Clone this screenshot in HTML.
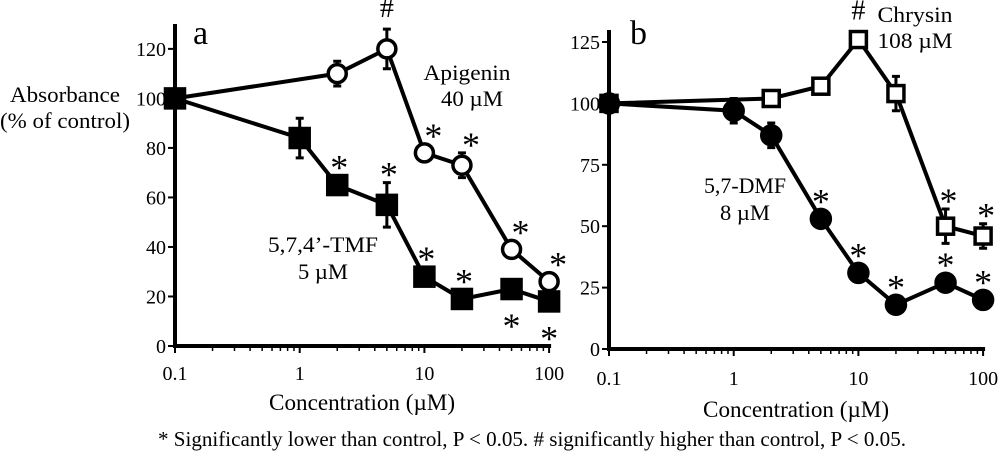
<!DOCTYPE html>
<html><head><meta charset="utf-8"><style>
html,body{margin:0;padding:0;background:#fff;}
svg{display:block;}
svg text{font-family:"Liberation Serif","Times New Roman",serif;}
</style></head><body>
<svg id="chart" width="1000" height="460" viewBox="0 0 1000 460" xmlns="http://www.w3.org/2000/svg" font-family="Liberation Serif, serif">
<text x="65" y="102" font-size="22" text-anchor="middle" textLength="110" lengthAdjust="spacingAndGlyphs">Absorbance</text>
<text x="65" y="128" font-size="22" text-anchor="middle" textLength="130" lengthAdjust="spacingAndGlyphs">(% of control)</text>
<text x="158" y="446" font-size="21" textLength="748" lengthAdjust="spacingAndGlyphs">* Significantly lower than control, P &lt; 0.05. # significantly higher than control, P &lt; 0.05.</text>
<g id="pa"></g>
<g id="pb"></g>
</svg>
<script>
// Panel a data
const aConc = [0.1, 2, 5, 10, 20, 50, 100];
const aApigenin = [100, 110, 120, 78, 73, 39, 26];
const aApigeninErr = [0, 5, 8, 2, 5, 3, 2];
const aApigeninMark = ["", "", "#", "*", "*", "*", "*"];
const aTmfConc = [0.1, 1, 2, 5, 10, 20, 50, 100];
const aTmf = [100, 84, 65, 57, 28, 19, 23, 18];
const aTmfErr = [0, 8, 2, 9, 2, 2, 2, 2];
const aTmfMark = ["", "", "*", "*", "*", "*", "*b", "*b"];
const aYTicks = [0, 20, 40, 60, 80, 100, 120];
// Panel b data
const bChrysinConc = [0.1, 2, 5, 10, 20, 50, 100];
const bChrysin = [100, 102, 107, 126, 104, 50, 46];
const bChrysinErr = [0, 2, 2, 2, 7, 7, 5];
const bChrysinMark = ["", "", "", "#", "", "*", "*"];
const bDmfConc = [0.1, 1, 2, 5, 10, 20, 50, 100];
const bDmf = [100, 97, 87, 53, 31, 18, 27, 20];
const bDmfErr = [0, 5, 5, 2, 2, 2, 2, 2];
const bDmfMark = ["", "", "", "*", "*", "*", "*", "*"];
const bYTicks = [0, 25, 50, 75, 100, 125];
const xTickLabels = ["0.1", "1", "10", "100"];
const xTickVals = [0.1, 1, 10, 100];

const NS = "http://www.w3.org/2000/svg";
function mk(parent, tag, attrs, text) {
  const e = document.createElementNS(NS, tag);
  for (const k in attrs) e.setAttribute(k, attrs[k]);
  if (text !== undefined) e.textContent = text;
  parent.appendChild(e);
  return e;
}

function panel(g, cfg) {
  const x = v => cfg.x0 + (Math.log10(v) + 1) * cfg.dec;
  const y = v => cfg.y0 - v * cfg.ppu;
  const xEnd = x(100);
  let e = mk(g, "line", {x1: cfg.x0, y1: cfg.y0, x2: xEnd + 2, y2: cfg.y0, stroke: "#000", "stroke-width": 4});
  
  
  e = mk(g, "line", {x1: cfg.x0, y1: cfg.y0 + 2, x2: cfg.x0, y2: cfg.yTop, stroke: "#000", "stroke-width": 4});
  
  
  cfg.yTicks.forEach(t => {
    let l = mk(g, "line", {x1: cfg.x0 - 7, y1: y(t), x2: cfg.x0, y2: y(t), stroke: "#000", "stroke-width": 2});
    
    
    let tx = mk(g, "text", {x: cfg.x0 - 9, y: y(t) + 7, "font-size": 20, "text-anchor": "end"}, String(t));
    
    
  });
  xTickVals.forEach((v, i) => {
    let l = mk(g, "line", {x1: x(v), y1: cfg.y0, x2: x(v), y2: cfg.y0 + 7, stroke: "#000", "stroke-width": 2});
    
    
    let tx = mk(g, "text", {x: x(v), y: cfg.y0 + cfg.tickDy, "font-size": 20, "text-anchor": "middle"}, xTickLabels[i]);
    
    
    if (i < 3) for (let m = 2; m <= 9; m++) {
      let ml = mk(g, "line", {x1: x(v * m), y1: cfg.y0 + 1, x2: x(v * m), y2: cfg.y0 + 5, stroke: "#000", "stroke-width": 1.5});
      
      
    }
  });
  let xt = mk(g, "text", {x: (cfg.x0 + xEnd) / 2, y: cfg.y0 + cfg.titleDy, "font-size": 23, "text-anchor": "middle", textLength: 186, lengthAdjust: "spacingAndGlyphs"}, "Concentration (\u00b5M)");
  
  
  let pl = mk(g, "text", {x: cfg.labelX, y: cfg.labelY, "font-size": 34}, cfg.label);
  
  

  cfg.series.forEach(s => {
    const sg = mk(g, "g", {});
    
    
    const pts = s.xs.map((v, i) => x(v) + "," + y(s.ys[i])).join(" ");
    let pln = mk(sg, "polyline", {points: pts, fill: "none", stroke: "#000", "stroke-width": 4});
    
    
    s.xs.forEach((v, i) => {
      const px = x(v), py = y(s.ys[i]), er = s.err[i];
      if (er > 0) {
        let eb = mk(sg, "path", {d: `M${px},${y(s.ys[i] + er)}V${y(s.ys[i] - er)}M${px - 4},${y(s.ys[i] + er)}H${px + 4}M${px - 4},${y(s.ys[i] - er)}H${px + 4}`, stroke: "#000", "stroke-width": 3, fill: "none"});
        
        
      }
      let mkEl;
      if (s.shape === "circle") mkEl = mk(sg, "circle", {cx: px, cy: py, r: s.size, fill: s.fill, stroke: "#000", "stroke-width": 3.5});
      else mkEl = mk(sg, "rect", {x: px - s.size, y: py - s.size, width: 2 * s.size, height: 2 * s.size, fill: s.fill, stroke: "#000", "stroke-width": 3.5});
      
      
      const m = s.marks[i];
      if (m) {
        const below = m.endsWith("b");
        const ch = m[0];
        const top = Math.min(py - s.size, y(s.ys[i] + er));
        let st;
        if (ch === "#") {
          st = mk(sg, "text", {x: px, y: top - 12, "font-size": 28, "text-anchor": "middle"}, "#");
          
        } else {
          const cy = below ? py + 29 : top - 16;
          st = mk(sg, "text", {x: px + (below ? 0 : (s.markDx || 0)), y: cy + 20, "font-size": 36, "text-anchor": "middle"}, "*");
          
        }
        
      }
    });
  });
  cfg.annotations.forEach(a => {
    let t = mk(g, "text", {x: a.x, y: a.y, "font-size": 22, "text-anchor": "middle", textLength: a.w, lengthAdjust: "spacingAndGlyphs"}, a.t);
    
    
  });
}

panel(document.getElementById("pa"), {
  x0: 175, y0: 346, dec: 124.7, ppu: 2.476, yTop: 24, yTicks: aYTicks, tickDy: 34, titleDy: 64,
  label: "a", labelX: 193, labelY: 44,
  series: [
    {name: "apigenin", xs: aConc, ys: aApigenin, err: aApigeninErr, marks: aApigeninMark, shape: "circle", size: 9, fill: "#fff", markDx: 9},
    {name: "tmf", xs: aTmfConc, ys: aTmf, err: aTmfErr, marks: aTmfMark, shape: "rect", size: 9.5, fill: "#000", markDx: 2}
  ],
  annotations: [
    {t: "Apigenin", x: 467, y: 80, w: 87, name: "apigenin-label"},
    {t: "40 \u00b5M", x: 472, y: 106, w: 62, name: "apigenin-ic50-label"},
    {t: "5,7,4\u2019-TMF", x: 323, y: 252, w: 110, name: "tmf-label"},
    {t: "5 \u00b5M", x: 323, y: 279, w: 50, name: "tmf-ic50-label"}
  ]
});
panel(document.getElementById("pb"), {
  x0: 609, y0: 349, dec: 124.7, ppu: 2.456, yTop: 30, yTicks: bYTicks, tickDy: 36, titleDy: 68,
  label: "b", labelX: 630, labelY: 44,
  series: [
    {name: "chrysin", xs: bChrysinConc, ys: bChrysin, err: bChrysinErr, marks: bChrysinMark, shape: "rect", size: 8, fill: "#fff", markDx: 3},
    {name: "dmf", xs: bDmfConc, ys: bDmf, err: bDmfErr, marks: bDmfMark, shape: "circle", size: 9.5, fill: "#000", markDx: 0}
  ],
  annotations: [
    {t: "Chrysin", x: 915, y: 22, w: 75, name: "chrysin-label"},
    {t: "108 \u00b5M", x: 915, y: 48, w: 75, name: "chrysin-ic50-label"},
    {t: "5,7-DMF", x: 745, y: 193, w: 82, name: "dmf-label"},
    {t: "8 \u00b5M", x: 745, y: 220, w: 50, name: "dmf-ic50-label"}
  ]
});
</script>
</body></html>
